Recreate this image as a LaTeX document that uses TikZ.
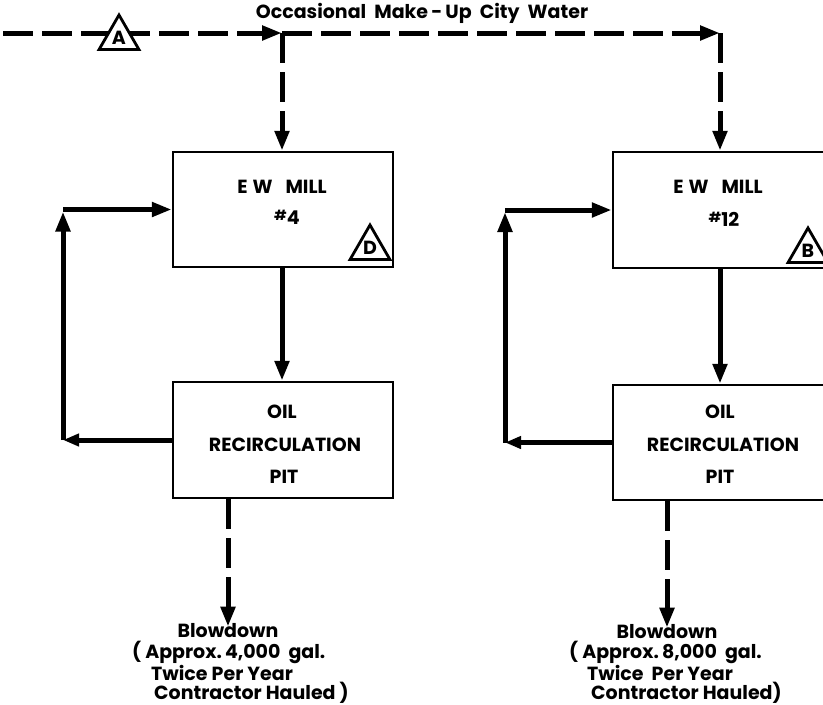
\documentclass[tikz,border=0pt]{standalone}
\usepackage{fontspec}
\setmainfont{Poppins}
\usetikzlibrary{arrows.meta,shapes.geometric}
\begin{document}
\begin{tikzpicture}[x=1pt,y=-1pt,
  flow/.style={line width=5pt},
  dflow/.style={line width=5pt, dash pattern=on 30pt off 9pt},
  tip/.style={-{Triangle[length=20pt,width=14pt]}},
  boxst/.style={draw, line width=2.5pt, inner sep=0pt},
  boxtxt/.style={font=\bfseries\fontsize{19}{20}\selectfont, inner sep=1pt},
  smtxt/.style={font=\bfseries\fontsize{19}{21}\selectfont, inner sep=1pt},
  tri/.style={regular polygon, regular polygon sides=3, draw, line width=2.8pt, fill=white,
              minimum size=46pt, inner sep=0pt, text depth=-2pt,
              font=\bfseries\fontsize{19}{19}\selectfont}
]
\useasboundingbox (0,0) rectangle (823,705);

% boxes
\node[boxst, minimum width=220pt, minimum height=115pt] (mill4) at (283,209.5) {};
\node[boxst, minimum width=220pt, minimum height=116pt] (pit4) at (283,440) {};
\node[boxst, minimum width=220pt, minimum height=116pt] (mill12) at (723,210) {};
\node[boxst, minimum width=220pt, minimum height=115pt] (pit12) at (723,442.5) {};

% box texts
\node[boxtxt] (m4a) at (282,187) {E\hspace{5pt}W\hspace{13pt}MILL};
\node[boxtxt] (m4b) at (287,217) {{\fontsize{14}{14}\selectfont\raisebox{0.55ex}{\#}}4};
\node[boxtxt] (p4a) at (282,412) {OIL};
\node[boxtxt] (p4b) at (285,445) {RECIRCULATION};
\node[boxtxt] (p4c) at (284,477) {PIT};

\node[boxtxt] (m12a) at (718,187) {E\hspace{5pt}W\hspace{13pt}MILL};
\node[boxtxt] (m12b) at (724,219) {{\fontsize{14}{14}\selectfont\raisebox{0.55ex}{\#}}12};
\node[boxtxt] (p12a) at (720,412) {OIL};
\node[boxtxt] (p12b) at (723,445) {RECIRCULATION};
\node[boxtxt] (p12c) at (720,477) {PIT};

% title
\node[smtxt] (title) at (422,13) {Occasional\ \ Make\,-\,Up\ \ City\ \ Water};

% top make-up line
\coordinate (start) at (3,33);
\coordinate (j4) at (282,33);
\coordinate (c12) at (720,33);
\draw[dflow,tip] (start) -- (j4);
\draw[dflow,tip] (j4) -- (c12);
\draw[dflow,tip] (c12) -- (c12 |- mill12.north);
\draw[dflow,tip] (j4) -- (j4 |- mill4.north);

% triangles
\node[tri] (triA) at (119,38) {A};
\node[tri] (triD) at (370,248) {D};
\node[tri] (triB) at (808,251) {B};

% mill -> pit
\draw[flow,tip] (mill4.south -| j4) -- (pit4.north -| j4);
\draw[flow,tip] (mill12.south -| c12) -- (pit12.north -| c12);

% recirculation loops
\coordinate (l4b) at (63,440);
\coordinate (l4t) at (63,209.5);
\draw[flow,-{Triangle[length=16pt,width=12pt]}] (pit4.west) -- (l4b);
\draw[flow,tip] (l4b) -- ([yshift=-2pt]l4t);
\draw[flow,tip] (l4t) -- (mill4.west);

\coordinate (l12b) at (505,442.5);
\coordinate (l12t) at (505,210);
\draw[flow,-{Triangle[length=16pt,width=12pt]}] (pit12.west) -- (l12b);
\draw[flow,tip] (l12b) -- ([yshift=-2pt]l12t);
\draw[flow,tip] (l12t) -- (mill12.west);

% blowdown texts
\node[smtxt] (bd4) at (228,631) {Blowdown};
\node[smtxt, anchor=west] (bd4b) at (131,652) {( Approx.\,4,000\ \ gal.};
\node[smtxt, anchor=west] (bd4c) at (150,673) {Twice Per Year};
\node[smtxt, anchor=west] (bd4d) at (153,693) {Contractor Hauled )};

\node[smtxt] (bd12) at (667,632) {Blowdown};
\node[smtxt, anchor=west] (bd12b) at (568,652) {( Approx.\,8,000\ \ gal.};
\node[smtxt, anchor=west] (bd12c) at (586,673) {Twice\ \ Per Year};
\node[smtxt, anchor=west] (bd12d) at (590,693) {Contractor Hauled)};

% blowdown lines
\draw[dflow,tip] (pit4.south -| bd4.north) -- ([yshift=-4pt]bd4.north);
\draw[dflow,tip] (pit12.south -| bd12.north) -- ([yshift=-4pt]bd12.north);
\end{tikzpicture}
\end{document}
